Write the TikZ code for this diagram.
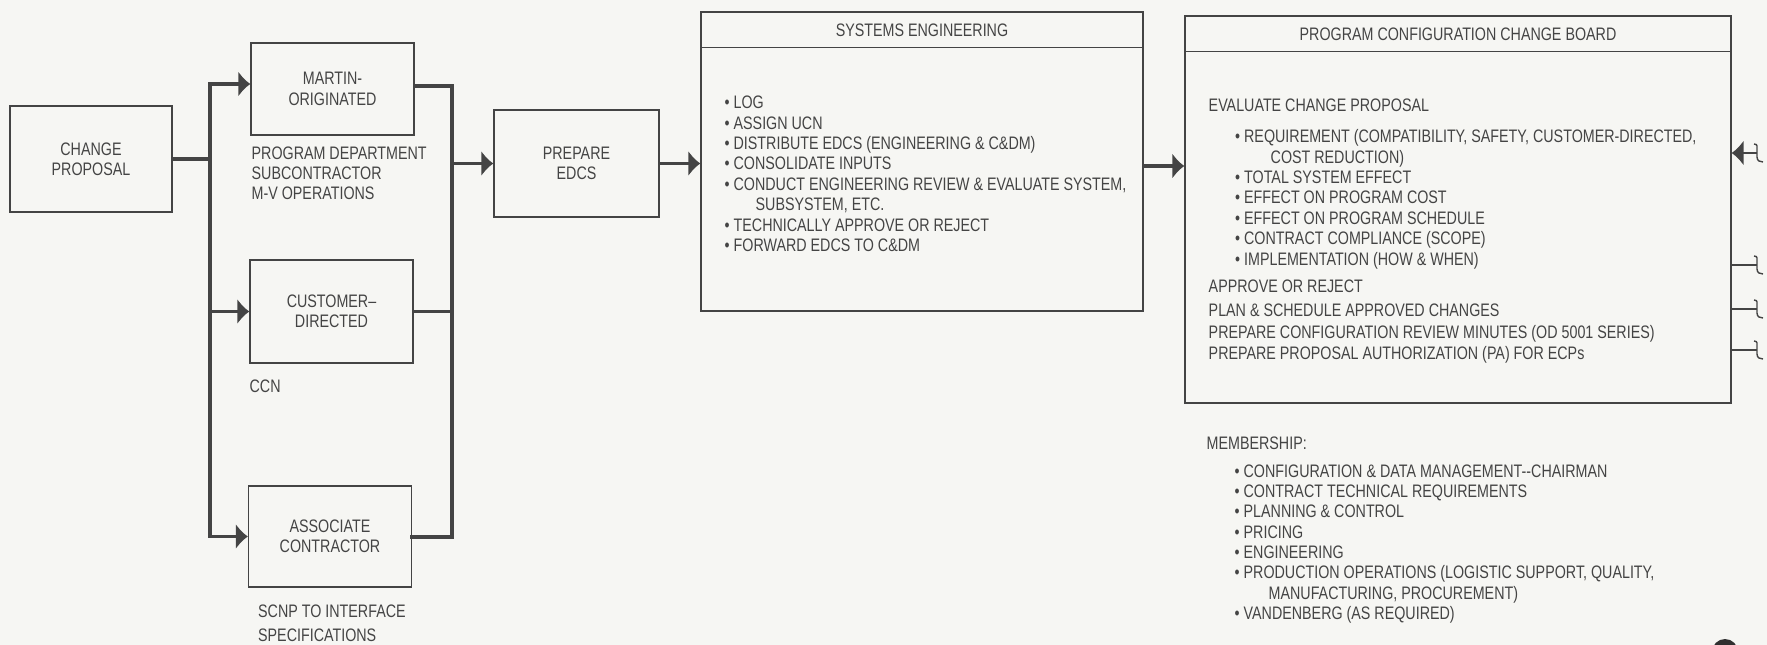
\documentclass[tikz,border=0pt]{standalone}
\usepackage{fontspec}
\setmainfont[FakeStretch=0.79]{Liberation Sans}
\usetikzlibrary{arrows.meta,positioning}
\definecolor{ink}{RGB}{68,68,68}
\definecolor{paper}{RGB}{246,246,243}
\newcommand{\dgfont}{\fontsize{10.3pt}{11.6pt}\selectfont}

\begin{document}
\begin{tikzpicture}[x=0.02cm, y=-0.02cm, color=ink, font=\dgfont,
    block/.style={rectangle, draw=ink, line width=0.8pt, align=center, inner sep=0pt, minimum width=3.26cm},
    frame/.style={rectangle, draw=ink, line width=0.8pt, inner sep=0pt},
    note/.style={anchor=north west, align=left, inner sep=0pt},
    bus/.style={draw=ink, line width=2.2pt, line cap=rect},
    line/.style={draw=ink, line width=2.2pt, -{Latex[length=0.24cm, width=0.52cm]}},
    brk/.pic={\draw[line width=0.8pt] (-3,-9) .. controls (1,-9) and (0,-6) .. (0,-3) -- (0,4) .. controls (0,8) and (3,9) .. (6,9);}]

    \fill[paper] (0,0) rectangle (1767,645);
    \useasboundingbox (0,0) rectangle (1767,645);

    % boxes
    \node [block, minimum width=3.24cm, minimum height=2.12cm] (cp) at (91,159) {CHANGE\\PROPOSAL};
    \node [block, minimum height=1.84cm] (martin) at (332.5,89) {MARTIN-\\ORIGINATED};
    \node [block, minimum height=2.06cm] (customer) at (331.5,311.5) {CUSTOMER--\\DIRECTED};
    \node [block, minimum height=2.02cm] (associate) at (330,536.5) {ASSOCIATE\\CONTRACTOR};
    \node [block, minimum width=3.3cm, minimum height=2.14cm] (prepare) at (576.5,163.5) {PREPARE\\EDCS};
    \node [frame, minimum width=8.84cm, minimum height=5.98cm] (se) at (922,161.5) {};
    \node [frame, minimum width=10.92cm, minimum height=7.74cm] (pccb) at (1458,209.5) {};

    % headers
    \draw [line width=0.8pt] ([yshift=-0.72cm]se.north west) -- ([yshift=-0.72cm]se.north east);
    \node (setitle) at ([yshift=-0.38cm]se.north) {SYSTEMS ENGINEERING};
    \draw [line width=0.8pt] ([yshift=-0.72cm]pccb.north west) -- ([yshift=-0.72cm]pccb.north east);
    \node (pccbtitle) at ([yshift=-0.38cm]pccb.north) {PROGRAM CONFIGURATION CHANGE BOARD};

    % sources
    \node [note, below right=0.21cm and 0.02cm of martin.south west] (martinsrc) {PROGRAM DEPARTMENT\\SUBCONTRACTOR\\M-V OPERATIONS};
    \node [note, below right=0.31cm and 0cm of customer.south west] (customersrc) {CCN};
    \node [note, below right=0.33cm and 0.2cm of associate.south west] (associatesrc) {SCNP TO INTERFACE\\[2pt]SPECIFICATIONS};

    % task lists
    \node [note, below right=1.69cm and 0.48cm of se.north west] (setext) {• LOG\\
        • ASSIGN UCN\\
        • DISTRIBUTE EDCS (ENGINEERING \& C\&DM)\\
        • CONSOLIDATE INPUTS\\
        • CONDUCT ENGINEERING REVIEW \& EVALUATE SYSTEM,\\
        \hspace*{0.62cm}SUBSYSTEM, ETC.\\
        • TECHNICALLY APPROVE OR REJECT\\
        • FORWARD EDCS TO C\&DM};
    \node [note, below right=1.67cm and 0.48cm of pccb.north west] (pccbtext) {EVALUATE CHANGE PROPOSAL\\[6pt]
        \hspace*{0.53cm}• REQUIREMENT (COMPATIBILITY, SAFETY, CUSTOMER-DIRECTED,\\
        \hspace*{1.24cm}COST REDUCTION)\\
        \hspace*{0.53cm}• TOTAL SYSTEM EFFECT\\
        \hspace*{0.53cm}• EFFECT ON PROGRAM COST\\
        \hspace*{0.53cm}• EFFECT ON PROGRAM SCHEDULE\\
        \hspace*{0.53cm}• CONTRACT COMPLIANCE (SCOPE)\\
        \hspace*{0.53cm}• IMPLEMENTATION (HOW \& WHEN)\\[4.3pt]
        APPROVE OR REJECT\\[2pt]
        PLAN \& SCHEDULE APPROVED CHANGES\\[0.9pt]
        PREPARE CONFIGURATION REVIEW MINUTES (OD 5001 SERIES)\\
        PREPARE PROPOSAL AUTHORIZATION (PA) FOR ECPs};
    \node [note, below right=0.65cm and 0.44cm of pccb.south west] (members) {MEMBERSHIP:\\[4.3pt]
        \hspace*{0.56cm}• CONFIGURATION \& DATA MANAGEMENT-{}-CHAIRMAN\\
        \hspace*{0.56cm}• CONTRACT TECHNICAL REQUIREMENTS\\
        \hspace*{0.56cm}• PLANNING \& CONTROL\\
        \hspace*{0.56cm}• PRICING\\
        \hspace*{0.56cm}• ENGINEERING\\
        \hspace*{0.56cm}• PRODUCTION OPERATIONS (LOGISTIC SUPPORT, QUALITY,\\
        \hspace*{1.24cm}MANUFACTURING, PROCUREMENT)\\
        \hspace*{0.56cm}• VANDENBERG (AS REQUIRED)};

    % buses
    \coordinate (ltop) at (210,84);
    \coordinate (lbot) at (210,536.5);
    \coordinate (rtop) at (452,86);
    \coordinate (rbot) at (452,537);
    \path [bus] (cp.east) -- (cp.east -| ltop);
    \path [bus] (ltop) -- (lbot);
    \path [line] (ltop) -- (ltop -| martin.west);
    \path [line] (ltop |- customer.west) -- (customer.west);
    \path [line] (lbot) -- (associate.west);
    \path [bus] (martin.east |- rtop) -- (rtop) -- (rbot) -- (associate.east |- rbot);
    \path [bus] (customer.east) -- (customer.east -| rtop);
    \path [line] (rtop |- prepare.west) -- (prepare.west);
    \path [line] (prepare.east) -- (prepare.east -| se.west);
    \path [line] ([yshift=-0.09cm]se.east) -- ([yshift=-0.09cm]se.east -| pccb.west);

    % off-page lines
    \coordinate (ret) at (1757,153);
    \coordinate (out1) at (1757,265);
    \coordinate (out2) at (1757,309);
    \coordinate (out3) at (1757,350);
    \path [line, line width=1.7pt] (ret) -- (ret -| pccb.east);
    \path [draw=ink, line width=1.7pt] (pccb.east |- out1) -- (out1);
    \path [draw=ink, line width=1.7pt] (pccb.east |- out2) -- (out2);
    \path [draw=ink, line width=1.7pt] (pccb.east |- out3) -- (out3);
    \pic at (ret) {brk};
    \pic at (out1) {brk};
    \pic at (out2) {brk};
    \pic at (out3) {brk};

    \begin{scope}
        \clip (0,0) rectangle (1767,645);
        \fill [ink!70!black] (1725,652) circle [radius=0.26cm];
    \end{scope}
\end{tikzpicture}
\end{document}
